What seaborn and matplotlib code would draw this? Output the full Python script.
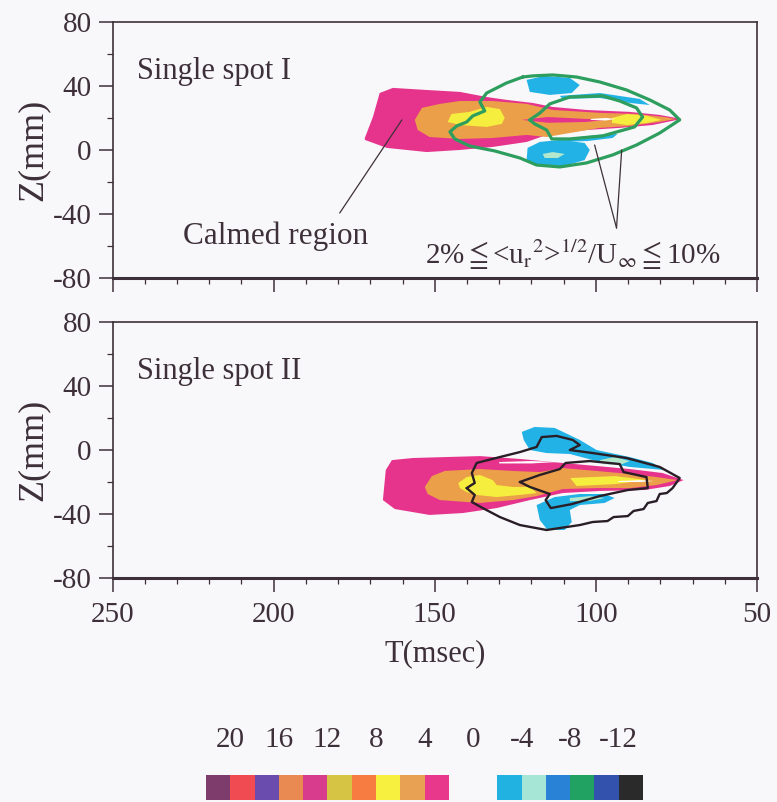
import numpy as np
import pandas as pd
import matplotlib
matplotlib.use("Agg")
import matplotlib.pyplot as plt
from matplotlib.ticker import MultipleLocator, FixedLocator
import seaborn as sns

# ---------------------------------------------------------------------------
# Contour regions of the spot, (T [msec], Z [mm]) vertices per level band
# ---------------------------------------------------------------------------
# Single spot I
spot1_pink = [(171.7, 7.5), (169.2, 20.6), (167.1, 35.6), (163.0, 38.8), (152.5, 37.5),
              (142.2, 36.3), (133.9, 33.1), (127.7, 31.3), (119.6, 29.4), (113.4, 26.9),
              (102.9, 25.0), (89.5, 23.8), (80.2, 21.9), (73.4, 19.4), (82.4, 15.6),
              (92.6, 13.8), (102.9, 12.5), (115.3, 9.4), (121.5, 5.0), (132.0, 1.9),
              (142.2, 0.0), (152.5, -1.3), (164.9, 1.3), (171.7, 6.3)]
spot1_orange = [(156.2, 18.8), (154.0, 26.3), (148.4, 28.8), (142.2, 30.6), (132.0, 30.6),
                (121.5, 28.8), (113.4, 25.0), (97.9, 23.1), (87.4, 22.5), (78.7, 20.6),
                (75.3, 19.4), (80.2, 17.5), (89.5, 15.0), (98.8, 13.8), (108.1, 10.6),
                (115.3, 8.1), (121.5, 9.4), (132.0, 7.5), (142.2, 6.9), (151.6, 8.1),
                (155.3, 12.5)]
spot1_yellow = [(146.0, 17.5), (144.8, 22.5), (139.2, 23.8), (133.9, 26.9), (129.8, 25.6),
                (128.3, 20.0), (129.2, 16.3), (133.9, 14.4), (142.2, 15.6)]
spot1_yellow_tip = [(95.0, 20.0), (90.3, 22.5), (84.2, 21.3), (79.6, 18.8), (84.2, 16.9),
                    (90.3, 15.6), (95.0, 16.9)]
spot1_pink_core = [(123.0, 18.8), (115.0, 20.6), (103.0, 19.4), (96.0, 19.0), (103.0, 17.5),
                   (115.0, 17.0)]
spot1_white = [(101.6, 19.4), (97.0, 20.0), (93.9, 19.4), (97.0, 18.4), (101.6, 18.8)]
spot1_cyan = [
    [(121.5, 43.8), (115.9, 46.3), (108.1, 45.0), (105.0, 40.6), (107.5, 35.6),
     (114.3, 34.4), (120.5, 36.3)],
    [(111.2, 33.8), (98.8, 35.6), (86.4, 31.9), (83.3, 28.1), (89.5, 29.4),
     (98.8, 32.5), (110.3, 31.9)],
    [(121.2, 1.3), (117.4, 5.0), (111.2, 6.3), (103.5, 4.4), (101.9, 0.0), (103.5, -6.3),
     (109.7, -10.0), (117.4, -10.0), (121.5, -6.3)],
    [(110.3, 6.9), (99.5, 9.4), (93.3, 10.0), (94.8, 7.5), (102.6, 5.6), (110.3, 5.0)],
]
spot1_aqua = [(116.5, -2.5), (113.4, -1.3), (109.7, -2.5), (111.8, -5.0), (115.9, -5.0)]
spot1_rms_outer = [(122.7, 45.6), (127.7, 41.9), (133.9, 35.6), (136.0, 30.0), (134.5, 24.4),
                   (138.2, 21.3), (140.1, 17.5), (143.2, 15.0), (145.3, 11.3), (143.8, 6.9),
                   (139.2, 2.5), (131.4, -0.6), (123.6, -5.0), (118.4, -9.4), (111.2, -10.6),
                   (102.9, -8.1), (94.8, -3.1), (87.4, 3.1), (80.2, 10.6), (74.0, 18.8),
                   (77.1, 25.0), (83.3, 31.3), (90.5, 37.5), (98.8, 42.5), (106.0, 45.6),
                   (113.4, 46.9), (119.6, 46.3)]
spot1_rms_inner = [(120.5, 18.8), (117.4, 23.1), (114.3, 28.8), (108.1, 33.1), (97.9, 33.8),
                   (92.6, 30.6), (87.4, 26.3), (85.5, 20.6), (88.0, 14.4), (97.9, 8.8),
                   (108.1, 6.9), (113.7, 6.9), (115.3, 12.5), (119.0, 16.3)]

# Single spot II
spot2_pink = [(166.1, -31.3), (165.2, -12.5), (163.3, -6.3), (156.8, -5.0), (136.0, -3.8),
              (123.6, -5.6), (110.3, -8.1), (99.8, -10.0), (89.5, -11.9), (79.3, -14.4),
              (72.8, -18.8), (77.1, -22.5), (84.9, -25.0), (98.8, -25.6), (110.3, -26.9),
              (120.5, -31.3), (130.8, -36.3), (141.3, -39.4), (151.6, -40.6), (162.4, -36.9)]
spot2_orange = [(153.1, -23.1), (150.9, -16.3), (146.9, -13.1), (136.0, -11.9), (125.8, -13.1),
                (117.4, -13.8), (110.3, -11.3), (99.8, -13.1), (89.5, -15.0), (81.2, -16.9),
                (74.7, -18.8), (81.2, -21.9), (89.5, -23.8), (99.8, -23.8), (110.3, -24.4),
                (118.4, -28.8), (125.8, -31.3), (136.0, -33.1), (148.4, -31.3), (152.2, -27.5)]
spot2_yellow = [(142.7, -20.6), (140.1, -16.9), (136.0, -15.6), (132.0, -18.8), (130.8, -21.9),
                (125.8, -23.1), (120.5, -23.1), (118.4, -26.9), (123.6, -28.1), (130.8, -29.4),
                (137.0, -28.1), (140.1, -26.3), (142.2, -23.8)]
spot2_yellow_tip = [(108.0, -17.5), (94.0, -16.3), (84.0, -18.8), (94.0, -21.3), (106.0, -22.5)]
spot2_white = [(130.0, -7.5), (120.0, -6.9), (112.0, -7.5), (120.0, -8.4), (130.0, -8.4)]
spot2_white_tip = [(93.0, -19.4), (86.0, -18.8), (82.0, -19.4), (86.0, -20.0), (93.0, -20.0)]
spot2_cyan = [
    [(123.0, 11.3), (119.0, 14.4), (112.8, 13.8), (105.0, 6.3), (99.8, 0.0), (89.5, -4.4),
     (82.4, -8.1), (78.7, -12.5), (89.5, -10.6), (99.8, -6.9), (108.1, -2.5),
     (115.3, -1.9), (120.5, 0.0), (122.4, 6.3)],
    [(118.4, -34.4), (112.8, -29.4), (105.0, -27.5), (97.3, -27.5), (94.2, -30.0),
     (97.3, -33.1), (105.0, -34.4), (108.1, -37.5), (107.5, -45.0), (109.7, -50.0),
     (115.0, -50.0), (117.4, -43.8)],
]
spot2_aqua = [
    [(98.8, -6.3), (94.2, -4.4), (89.5, -6.9), (92.6, -9.4), (97.9, -8.8)],
    [(108.1, -30.0), (101.9, -28.8), (97.3, -30.0), (101.9, -31.9), (108.1, -31.9)],
]
spot2_rms_outer = [(140.1, -23.8), (137.6, -20.6), (138.5, -14.4), (137.0, -8.1), (129.8, -4.4),
                   (123.6, -1.3), (118.4, 1.9), (116.8, 8.1), (112.2, 8.8), (107.2, 6.3),
                   (105.0, 3.1), (108.1, 0.0), (101.0, -1.9), (90.5, -5.0), (80.2, -10.6),
                   (74.0, -17.5), (76.2, -23.8), (78.0, -26.9), (80.2, -27.5), (81.2, -31.9),
                   (83.9, -33.1), (85.2, -36.9), (88.3, -38.1), (90.1, -41.3), (94.5, -41.9),
                   (96.4, -44.4), (101.0, -45.0), (105.0, -46.9), (115.3, -50.0), (123.6, -46.9),
                   (129.8, -41.9), (135.1, -36.3), (138.5, -32.5), (137.6, -28.1)]
spot2_rms_inner = [(123.6, -20.0), (117.4, -15.6), (111.2, -11.9), (109.4, -8.1), (101.9, -6.9),
                   (92.6, -8.8), (91.4, -13.8), (84.3, -16.9), (83.9, -23.8), (90.1, -25.0),
                   (98.8, -28.8), (107.5, -33.8), (114.0, -36.3), (115.6, -31.3), (114.3, -27.5),
                   (120.5, -23.1)]

# Annotations
calmed_leader_t = [160.2, 179.5]
calmed_leader_z = [18.8, -39.4]
rms_leader_t = [[100.4, 93.6], [92.0, 93.6]]
rms_leader_z = [[3.1, -48.8], [0.0, -48.8]]

# Colour key: band centres (positive and negative) and tick labels
key_pos_values = [21, 19, 17, 15, 13, 11, 9, 7, 5, 3]
key_pos_colors = ["#7d3c6c", "#f04a52", "#6a4cae", "#e88a52", "#d83c8c",
                  "#d6c444", "#f67c42", "#f7f03e", "#e8a052", "#e8388c"]
key_neg_values = [-3, -5, -7, -9, -11, -13]
key_neg_colors = ["#22b2e2", "#a6e6d6", "#2a82d6", "#22a262", "#3252ae", "#2a2a2a"]
key_tick_values = [20, 16, 12, 8, 4, 0, -4, -8, -12]

x_ticks = [250, 200, 150, 100, 50]
y_ticks = [80, 40, 0, -40, -80]

PINK = "#e6348c"
ORANGE = "#eb9f48"
YELLOW = "#f6ee3e"
CYAN = "#22b2e6"
AQUA = "#b4e8cc"
BG = "#f8f8fa"
INK = "#3e3038"

# ---------------------------------------------------------------------------
sns.set_theme(style="ticks")
plt.rcParams.update({
    "font.family": ["Liberation Serif", "DejaVu Serif"],
    "mathtext.fontset": "stix",
    "axes.unicode_minus": False,
    "figure.facecolor": BG,
    "axes.facecolor": BG,
    "axes.edgecolor": INK,
    "xtick.color": INK,
    "ytick.color": INK,
    "text.color": INK,
    "axes.labelcolor": INK,
})

FS = 21
FS_TEXT = 22
fig = plt.figure(figsize=(7.77, 8.02), dpi=100)
ax1 = fig.add_axes([0.1448, 0.6534, 0.8295, 0.3192])
ax2 = fig.add_axes([0.1448, 0.2793, 0.8295, 0.3192])
axk = fig.add_axes([0.2651, 0.0025, 0.5625, 0.0312])


def fill_poly(ax, pts, color, z=2):
    arr = np.array(pts)
    ax.fill(arr[:, 0], arr[:, 1], color=color, lw=0, zorder=z)


def outline(ax, pts, color, lw):
    arr = np.array(pts + [pts[0]])
    df = pd.DataFrame({"T": arr[:, 0], "Z": arr[:, 1]})
    sns.lineplot(data=df, x="T", y="Z", sort=False, estimator=None, ax=ax,
                 color=color, lw=lw, zorder=6)


def style_axes(ax, show_xlabels):
    ax.set_xlim(250, 50)
    ax.set_ylim(-80, 80)
    ax.xaxis.set_major_locator(FixedLocator(x_ticks))
    ax.xaxis.set_minor_locator(MultipleLocator(10))
    ax.yaxis.set_major_locator(FixedLocator(y_ticks))
    ax.yaxis.set_minor_locator(MultipleLocator(20))
    ax.set_yticklabels([str(v) for v in y_ticks], fontsize=FS)
    if show_xlabels:
        ax.set_xticklabels([str(v) for v in x_ticks], fontsize=FS)
    else:
        ax.set_xticklabels([])
    ax.tick_params(which="major", direction="out", length=10, width=1.1, pad=5)
    ax.tick_params(which="minor", direction="out", length=4.5, width=0.9)
    ax.tick_params(axis="x", which="major", pad=7)
    for s in ["left", "right", "top"]:
        ax.spines[s].set_linewidth(1.2)
    ax.spines["bottom"].set_linewidth(2.2)
    ax.set_xlabel("")
    ax.set_ylabel("Z(mm)", fontsize=26, labelpad=2)


# ---- Single spot I ----
fill_poly(ax1, spot1_pink, PINK)
fill_poly(ax1, spot1_orange, ORANGE, 3)
fill_poly(ax1, spot1_yellow, YELLOW, 4)
fill_poly(ax1, spot1_yellow_tip, YELLOW, 4)
fill_poly(ax1, spot1_pink_core, PINK, 4)
fill_poly(ax1, spot1_white, "white", 5)
for poly in spot1_cyan:
    fill_poly(ax1, poly, CYAN, 3)
fill_poly(ax1, spot1_aqua, AQUA, 4)
outline(ax1, spot1_rms_outer, "#2e9e5e", 2.3)
outline(ax1, spot1_rms_inner, "#2e9e5e", 2.3)
ax1.plot(calmed_leader_t, calmed_leader_z, color=INK, lw=0.9, zorder=7)
for tt, zz in zip(rms_leader_t, rms_leader_z):
    ax1.plot(tt, zz, color=INK, lw=0.9, zorder=7)
ax1.text(242.4, 48.8, "Single spot I", fontsize=FS_TEXT, va="center", ha="left")
ax1.text(228.1, -53.8, "Calmed region", fontsize=FS_TEXT + 0.5, va="center", ha="left")
ax1.text(153.1, -65.6,
         r"2%$\leqq$<u$_{\mathrm{r}}$$^{2}$>$^{\mathrm{1/2}}$/U$_{\infty}$$\leqq$10%",
         fontsize=FS, va="center", ha="left")
style_axes(ax1, False)

# ---- Single spot II ----
fill_poly(ax2, spot2_pink, PINK)
fill_poly(ax2, spot2_orange, ORANGE, 3)
fill_poly(ax2, spot2_yellow, YELLOW, 4)
fill_poly(ax2, spot2_yellow_tip, YELLOW, 4)
fill_poly(ax2, spot2_white, "white", 5)
fill_poly(ax2, spot2_white_tip, "white", 5)
for poly in spot2_cyan:
    fill_poly(ax2, poly, CYAN, 3)
for poly in spot2_aqua:
    fill_poly(ax2, poly, AQUA, 4)
outline(ax2, spot2_rms_outer, "#2a1e26", 1.7)
outline(ax2, spot2_rms_inner, "#2a1e26", 1.7)
ax2.text(242.4, 48.8, "Single spot II", fontsize=FS_TEXT, va="center", ha="left")
style_axes(ax2, True)
ax2.set_xlabel("T(msec)", fontsize=FS + 1, labelpad=8)

# ---- Colour key ----
axk.bar([-v for v in key_pos_values], 1, width=2.0, color=key_pos_colors, lw=0)
axk.bar([-v for v in key_neg_values], 1, width=2.0, color=key_neg_colors, lw=0)
axk.set_xlim(-22, 14)
axk.set_ylim(0, 1)
axk.set_facecolor("none")
for s in axk.spines.values():
    s.set_visible(False)
axk.set_yticks([])
axk.set_xticks([-v for v in key_tick_values])
axk.set_xticklabels([str(v) for v in key_tick_values], fontsize=FS)
axk.tick_params(axis="x", bottom=False, labelbottom=False, top=False, labeltop=True,
                length=0, pad=16)

fig.savefig("out.png", dpi=100, facecolor=BG)
